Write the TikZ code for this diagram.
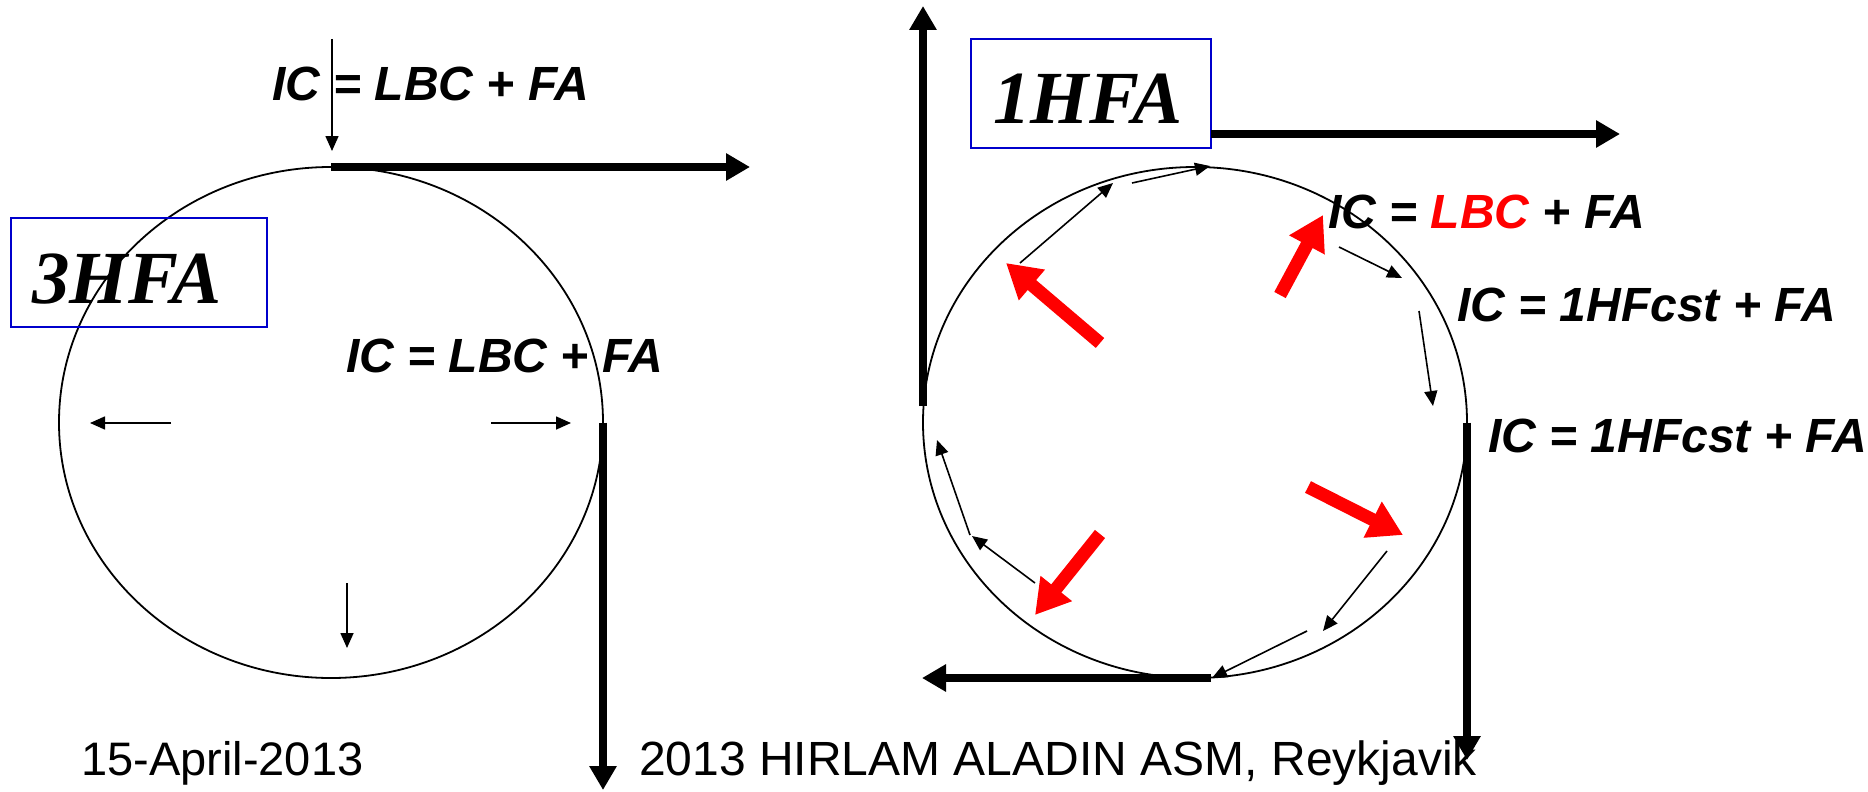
\documentclass[tikz,border=0pt]{standalone}
\usepackage{fontspec}
\setmainfont{Liberation Sans}
\newfontfamily\tnr{Liberation Serif}
\usetikzlibrary{arrows.meta,shapes.geometric}
\definecolor{boxblue}{RGB}{0,0,204}
\definecolor{arrred}{RGB}{255,0,0}
\begin{document}
\begin{tikzpicture}[x=1pt,y=-1pt,
  oval/.style={draw, ellipse, line width=1.8pt, inner sep=0pt, outer sep=0pt, minimum width=544pt, minimum height=511pt},
  labelbox/.style={draw=boxblue, line width=2pt, inner sep=0pt, outer sep=0pt},
  eqtext/.style={anchor=base west, inner sep=0pt, font=\fontsize{48}{50}\selectfont\bfseries\itshape},
  bigname/.style={anchor=base west, inner sep=0pt, font=\tnr\fontsize{75}{78}\selectfont\bfseries\itshape},
  foot/.style={anchor=base west, inner sep=0pt, font=\fontsize{47}{50}\selectfont},
  thinarrow/.style={line width=1.6pt, -{Triangle[length=15pt,width=13pt]}},
  thickarrow/.style={line width=8pt, -{Triangle[length=24pt,width=26pt]}},
  redarrow/.style={draw=arrred, line width=13pt, -{Triangle[length=34pt,width=38pt]}},
]
\useasboundingbox (0,0) rectangle (1868,792);

% ---------------- left diagram (3HFA) ----------------
\node[oval] (E1) at (331,422.5) {};
\node[labelbox, minimum width=256pt, minimum height=109pt] (B3) at (139,272.5) {};
\node[bigname] (N3) at (32,303) {3HFA};
\node[eqtext] (L1) at (272,100) {IC = LBC + FA};
\node[eqtext] (L2) at (346,372) {IC = LBC + FA};

\coordinate (d0) at (332,39);
\coordinate (d1) at (332,151);
\draw[thinarrow] (d0) -- (d1);
\coordinate (h1) at (750,167);
\draw[thickarrow] (E1.north) -- (h1);
\coordinate (v1) at (603,790);
\draw[thickarrow] (E1.east) -- (v1);

\coordinate (la0) at (171,423); \coordinate (la1) at (90,423);
\coordinate (ra0) at (491,423); \coordinate (ra1) at (571,423);
\coordinate (da0) at (347,583); \coordinate (da1) at (347,648);
\draw[thinarrow] (la0) -- (la1);
\draw[thinarrow] (ra0) -- (ra1);
\draw[thinarrow] (da0) -- (da1);

% ---------------- right diagram (1HFA) ----------------
\node[oval] (E2) at (1195,422.5) {};
\node[labelbox, minimum width=240pt, minimum height=109pt] (B1) at (1091,93.5) {};
\node[bigname] (N1) at (993,123) {1HFA};
\node[eqtext] (L3) at (1328,228) {IC = \textcolor{arrred}{LBC} + FA};
\node[eqtext] (L4) at (1457,321) {IC = 1HFcst + FA};
\node[eqtext] (L5) at (1488,452) {IC = 1HFcst + FA};

% thick axes
\coordinate (up0) at (923,406); \coordinate (up1) at (923,6);
\draw[thickarrow] (up0) -- (up1);
\coordinate (rt0) at (1211,134); \coordinate (rt1) at (1620,134);
\draw[thickarrow] (rt0) -- (rt1);
\coordinate (dn1) at (1467,760);
\draw[thickarrow] (E2.east) -- (dn1);
\coordinate (lf0) at (1211,678); \coordinate (lf1) at (922,678);
\draw[thickarrow] (lf0) -- (lf1);

% thin circulation arrows
\coordinate (c1a) at (1020,263); \coordinate (c1b) at (1113,183);
\coordinate (c2a) at (1132,183); \coordinate (c2b) at (1210,166);
\coordinate (c3a) at (1339,247); \coordinate (c3b) at (1402,278);
\coordinate (c4a) at (1419,311); \coordinate (c4b) at (1433,406);
\coordinate (c5a) at (1387,551); \coordinate (c5b) at (1323,631);
\coordinate (c6a) at (1307,631); \coordinate (c6b) at (1212,678);
\coordinate (c7a) at (1035,583); \coordinate (c7b) at (972,536);
\coordinate (c8a) at (970,535);  \coordinate (c8b) at (937,440);
\draw[thinarrow] (c1a) -- (c1b);
\draw[thinarrow] (c2a) -- (c2b);
\draw[thinarrow] (c3a) -- (c3b);
\draw[thinarrow] (c4a) -- (c4b);
\draw[thinarrow] (c5a) -- (c5b);
\draw[thinarrow] (c6a) -- (c6b);
\draw[thinarrow] (c7a) -- (c7b);
\draw[thinarrow] (c8a) -- (c8b);

% red arrows
\coordinate (r1a) at (1100,343); \coordinate (r1b) at (1006,263);
\coordinate (r2a) at (1280,295); \coordinate (r2b) at (1323,215);
\coordinate (r3a) at (1308,487); \coordinate (r3b) at (1403,535);
\coordinate (r4a) at (1100,534); \coordinate (r4b) at (1035,615);
\draw[redarrow] (r1a) -- (r1b);
\draw[redarrow] (r2a) -- (r2b);
\draw[redarrow] (r3a) -- (r3b);
\draw[redarrow] (r4a) -- (r4b);

% ---------------- footer ----------------
\node[foot] (F1) at (81,775) {15-April-2013};
\node[foot, font=\fontsize{48}{50}\selectfont] (F2) at (639,775) {2013 HIRLAM ALADIN ASM, Reykjavik};
\end{tikzpicture}
\end{document}
